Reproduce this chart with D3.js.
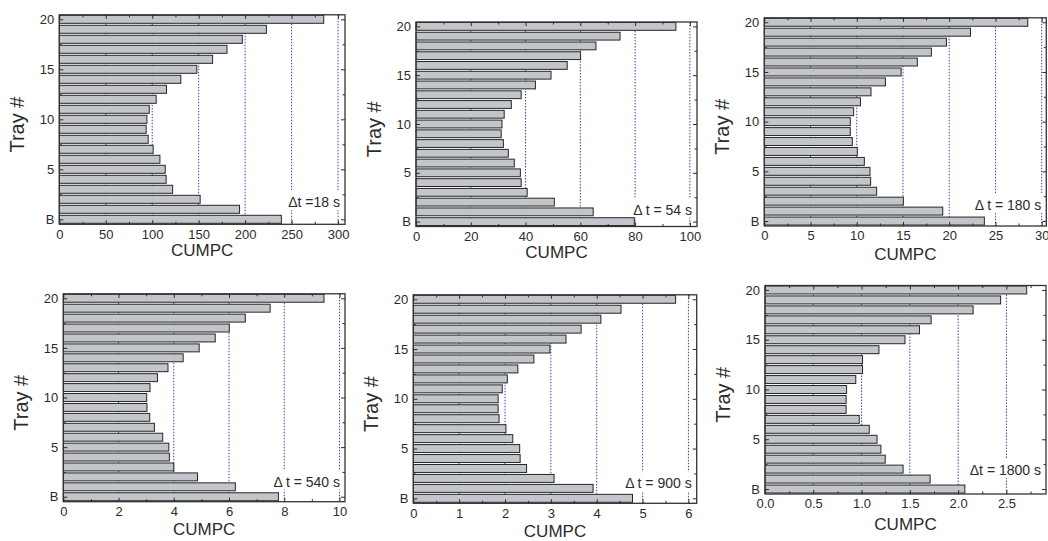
<!DOCTYPE html>
<html>
<head>
<meta charset="utf-8">
<script src="https://cdn.jsdelivr.net/npm/d3@7"></script>
<style>
  body { margin: 0; background: #fff; }
  svg { display: block; font-family: "Liberation Sans", Arial, sans-serif; }
</style>
</head>
<body>
<svg id="chart" width="1048" height="541"></svg>
<script>
// tray 0 is the bottom ("B"), tray 20 the top
const trays = d3.range(0, 21);
const trayTicks = [0, 5, 10, 15, 20];
const trayTickLabels = ["B", "5", "10", "15", "20"];
const notes = ["\u0394t =18 s", "\u0394 t = 54 s", "\u0394 t = 180 s", "\u0394 t = 540 s", "\u0394 t = 900 s", "\u0394t = 1800 s"];

// CUMPC per tray (B, 1, 2, ... 20)
const cumpc18 = [239, 194, 151.6, 122, 115, 114, 108.3, 101, 95.7, 93.5, 94.3, 96.8, 104.3, 115.4, 130.8, 148, 165, 180.5, 197, 222.9, 284.6];
const cumpc54 = [79.7, 64.7, 50.5, 40.6, 38.4, 38.1, 35.9, 33.7, 31.9, 31.1, 31.4, 32.2, 34.8, 38.4, 43.6, 49.3, 55.2, 60.1, 65.7, 74.5, 94.9];
const cumpc180 = [23.8, 19.3, 15.04, 12.15, 11.5, 11.43, 10.82, 10.06, 9.52, 9.3, 9.3, 9.66, 10.4, 11.54, 13.1, 14.8, 16.55, 18.07, 19.7, 22.3, 28.5];
const cumpc540 = [7.79, 6.23, 4.86, 4.0, 3.84, 3.82, 3.6, 3.3, 3.13, 3.03, 3.02, 3.14, 3.41, 3.79, 4.34, 4.92, 5.5, 6.01, 6.59, 7.49, 9.44];
const cumpc900 = [4.78, 3.92, 3.07, 2.47, 2.33, 2.32, 2.17, 2.02, 1.87, 1.85, 1.85, 1.94, 2.05, 2.28, 2.63, 2.98, 3.33, 3.66, 4.09, 4.53, 5.72];
const cumpc1800 = [2.07, 1.71, 1.43, 1.245, 1.2, 1.16, 1.08, 0.976, 0.84, 0.84, 0.845, 0.94, 1.01, 1.01, 1.18, 1.45, 1.6, 1.72, 2.155, 2.44, 2.71];
const series = [cumpc18, cumpc54, cumpc180, cumpc540, cumpc900, cumpc1800];

// panel frames and x axis setup
const panels = [
  { l: 59.3, r: 345, t: 14.8, b: 224.3, xmax: 307.5, major: 50, minor: 25, fmt: "d", noteDy: 17, titleDy: 32 },
  { l: 416, r: 697, t: 22, b: 226.5, xmax: 102.6, major: 20, minor: 10, fmt: "d", noteDy: 12, titleDy: 31 },
  { l: 764.3, r: 1046.3, t: 17.8, b: 226, xmax: 30.5, major: 5, minor: 2.5, fmt: "d", noteDy: 16, titleDy: 34 },
  { l: 63.3, r: 345, t: 293.8, b: 501.7, xmax: 10.2, major: 2, minor: 1, fmt: "d", noteDy: 15, titleDy: 33 },
  { l: 413.3, r: 696.7, t: 294.8, b: 503.3, xmax: 6.18, major: 1, minor: 0.5, fmt: "d", noteDy: 15, titleDy: 33.5 },
  { l: 765, r: 1046, t: 285.5, b: 494, xmax: 2.91, major: 0.5, minor: 0.25, fmt: ".1f", noteDy: 19, titleDy: 36 }
];

const svg = d3.select("#chart");
const ink = "#2b2b2b";

function styleAxis(sel) {
  sel.select(".domain").remove();
  sel.selectAll(".tick line").attr("stroke", ink).attr("stroke-width", 1);
  sel.selectAll(".tick text").attr("fill", ink);
  sel.attr("font-size", 13).attr("font-family", "Liberation Sans, Arial, sans-serif");
}

panels.forEach((p, k) => {
  const vals = series[k];
  const x = d3.scaleLinear().domain([0, p.xmax]).range([p.l, p.r]);
  const y = d3.scaleLinear().domain([-0.5, 20.45]).range([p.b, p.t]);
  const major = d3.range(0, p.xmax + 1e-9, p.major);
  const minor = d3.range(p.minor, p.xmax, p.major);
  const yMinor = [2.5, 7.5, 12.5, 17.5];
  const g = svg.append("g");

  // dotted grid at the major ticks
  g.append("g").selectAll("line").data(major.filter(v => v > 0)).join("line")
    .attr("x1", d => x(d)).attr("x2", d => x(d))
    .attr("y1", p.t).attr("y2", p.b)
    .attr("stroke", "#3a44b4").attr("stroke-width", 1)
    .attr("stroke-dasharray", "1.5,1.5");

  // note with white box over the grid
  const noteY = p.b - p.noteDy;
  const note = g.append("text")
    .attr("x", p.r - 5).attr("y", noteY)
    .attr("text-anchor", "end").attr("font-size", 14).attr("fill", ink)
    .text(notes[k]);
  const bb = note.node().getBBox();
  g.insert("rect", "text")
    .attr("x", bb.x - 3).attr("y", noteY - 17)
    .attr("width", p.r - bb.x + 2).attr("height", 20)
    .attr("fill", "#fff");

  // bars
  g.append("g").selectAll("rect").data(trays).join("rect")
    .attr("x", x(0))
    .attr("y", t => y(t + 0.4))
    .attr("width", t => x(vals[t]) - x(0))
    .attr("height", y(0) - y(0.8))
    .attr("fill", "#c2c5ca")
    .attr("stroke", "#262626").attr("stroke-width", 1);

  note.raise();

  // frame
  g.append("rect")
    .attr("x", p.l).attr("y", p.t)
    .attr("width", p.r - p.l).attr("height", p.b - p.t)
    .attr("fill", "none").attr("stroke", "#333").attr("stroke-width", 1.3);

  // axes: ticks point inward on all four sides
  g.append("g").attr("transform", `translate(0,${p.b})`)
    .call(d3.axisBottom(x).tickValues(major).tickFormat(d3.format(p.fmt)).tickSize(-4).tickPadding(5))
    .call(styleAxis);
  g.append("g").attr("transform", `translate(0,${p.b})`)
    .call(d3.axisBottom(x).tickValues(minor).tickFormat("").tickSize(-2.5))
    .call(styleAxis);
  g.append("g").attr("transform", `translate(0,${p.t})`)
    .call(d3.axisTop(x).tickValues(major).tickFormat("").tickSize(-4))
    .call(styleAxis);
  g.append("g").attr("transform", `translate(0,${p.t})`)
    .call(d3.axisTop(x).tickValues(minor).tickFormat("").tickSize(-2.5))
    .call(styleAxis);

  g.append("g").attr("transform", `translate(${p.l},0)`)
    .call(d3.axisLeft(y).tickValues(trayTicks).tickFormat((d, i) => trayTickLabels[i]).tickSize(-4).tickPadding(5))
    .call(styleAxis);
  g.append("g").attr("transform", `translate(${p.l},0)`)
    .call(d3.axisLeft(y).tickValues(yMinor).tickFormat("").tickSize(-2.5))
    .call(styleAxis);
  g.append("g").attr("transform", `translate(${p.r},0)`)
    .call(d3.axisRight(y).tickValues(trayTicks).tickFormat("").tickSize(-4))
    .call(styleAxis);
  g.append("g").attr("transform", `translate(${p.r},0)`)
    .call(d3.axisRight(y).tickValues(yMinor).tickFormat("").tickSize(-2.5))
    .call(styleAxis);

  // axis titles
  g.append("text")
    .attr("x", (p.l + p.r) / 2).attr("y", p.b + p.titleDy)
    .attr("text-anchor", "middle").attr("font-size", 17).attr("fill", ink)
    .text("CUMPC");
  g.append("text")
    .attr("transform", `translate(${p.l - 35},${(p.t + p.b) / 2 + 5}) rotate(-90)`)
    .attr("text-anchor", "middle").attr("font-size", 20).attr("fill", ink)
    .text("Tray #");
});
</script>
</body>
</html>
